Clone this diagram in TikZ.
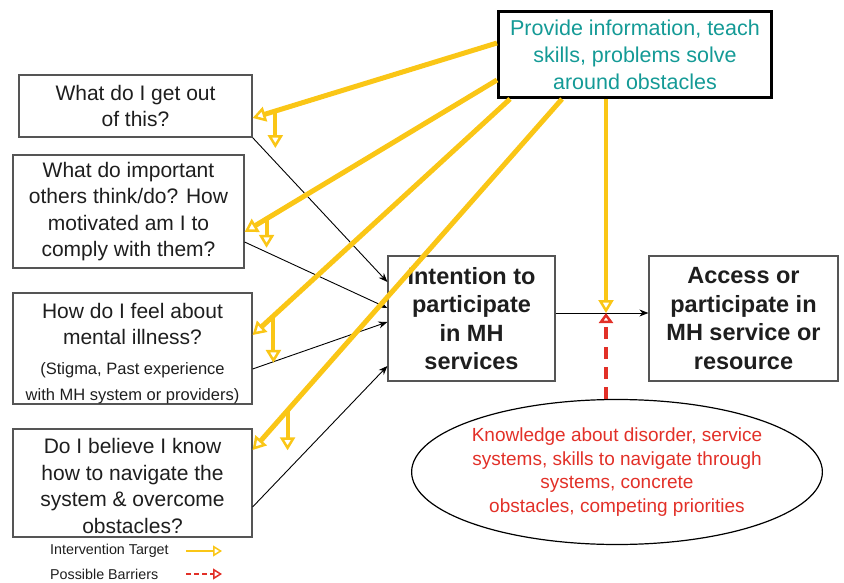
\documentclass[tikz,border=0pt]{standalone}
\usepackage{fontspec}
\setmainfont{Liberation Sans}
\usetikzlibrary{arrows.meta,shapes.geometric}

\definecolor{tgtyellow}{RGB}{250,198,22}
\definecolor{barred}{RGB}{226,48,40}
\definecolor{helpteal}{RGB}{20,154,150}
\definecolor{boxgray}{RGB}{85,85,85}
\definecolor{textgray}{RGB}{30,30,30}

\newcommand{\smallnote}{\fontsize{16.5}{21}\selectfont}

\begin{document}
\begin{tikzpicture}[x=1pt, y=-1pt,
        qbox/.style={draw=boxgray, line width=1.2pt, inner sep=0pt, align=center,
            text=textgray, font=\fontsize{21}{26.5}\selectfont},
        goalbox/.style={qbox, font=\bfseries\fontsize{23.5}{28.5}\selectfont},
        feed/.style={draw=black, line width=0.9pt, -{Stealth[length=9pt, width=7pt]}},
        tgt/.style={draw=tgtyellow, line width=5pt,
            -{Triangle[open, length=13pt, width=15pt, line width=2.5pt]}},
        tgtdrop/.style={tgt, line width=4pt},
        barrier/.style={draw=barred, line width=4pt, dash pattern=on 12pt off 8pt,
            -{Triangle[open, length=10pt, width=14pt, line width=2.5pt]}}]
        \useasboundingbox (0, 0) rectangle (844, 583);

        % questions on the left
        \node[qbox, minimum width=233pt, minimum height=62pt] (get) at (135.5, 106)
            {What do I get out\\of this?};
        \node[qbox, minimum width=231pt, minimum height=113pt] (others) at (128.5, 211.5)
            {What do important\\others think/do? How\\motivated am I to\\comply with them?};
        \node[qbox, minimum width=239pt, minimum height=111pt] (feel) at (132.5, 348.5)
            {\rule{0pt}{25pt}How do I feel about\\mental illness?\\[3pt]{\smallnote (Stigma, Past experience}\\{\smallnote with MH system or providers)}};
        \node[qbox, minimum width=239pt, minimum height=108pt] (navigate) at (132.5, 483)
            {\rule{0pt}{21pt}Do I believe I know\\how to navigate the\\system \& overcome\\obstacles?};

        % intention and access
        \node[goalbox, minimum width=167pt, minimum height=125pt] (intent) at (471.5, 318.5)
            {Intention to\\participate\\in MH\\services};
        \node[goalbox, minimum width=189pt, minimum height=125pt] (access) at (743.5, 318.5)
            {Access or\\participate in\\MH service or\\resource};

        % intervention and barriers
        \node[draw=black, line width=3pt, minimum width=273pt, minimum height=86pt,
            align=center, text=helpteal, font=\fontsize{21.5}{27}\selectfont] (help) at (635, 54.5)
            {Provide information, teach\\skills, problems solve\\around obstacles};
        \node[ellipse, draw=black, line width=1.2pt, minimum width=370pt, minimum height=145pt,
            inner sep=0pt, align=center, text=barred, font=\fontsize{19}{23.7}\selectfont] (know) at (617, 472)
            {Knowledge about disorder, service\\systems, skills to navigate through\\systems, concrete\\obstacles, competing priorities};

        \draw[feed] (get.south east) -- ([yshift=36.5pt]intent.west);
        \draw[feed] ([yshift=-30.5pt]others.east) -- ([yshift=10.5pt]intent.west);
        \draw[feed] ([yshift=-20.5pt]feel.east) -- ([yshift=-3.5pt]intent.west);
        \draw[feed] ([yshift=-24pt]navigate.east) -- ([yshift=-47.5pt]intent.west);
        \draw[feed] ([yshift=5.5pt]intent.east) -- ([yshift=5.5pt]access.west);

        \coordinate (meet) at (606, 313);
        \draw[tgtdrop] (meet |- help.south) -- (meet);
        \draw[barrier] (meet |- know.north) -- (meet);

        \draw[tgt] ([yshift=11.5pt]help.west) -- coordinate[pos=0.907] (d1) ([yshift=-12pt]get.east);
        \draw[tgt] ([yshift=-25.5pt]help.west) -- coordinate[pos=0.913] (d2) ([yshift=-20.5pt]others.east);
        \draw[tgt] ([xshift=-125pt]help.south) -- coordinate[pos=0.919] (d3) ([yshift=13.5pt]feel.east);
        \draw[tgt] ([xshift=-73pt]help.south) -- coordinate[pos=0.887] (d4) ([yshift=33pt]navigate.east);
        \draw[tgtdrop] (d1) -- ++(0, 37);
        \draw[tgtdrop] (d2) -- ++(0, 29);
        \draw[tgtdrop] (d3) -- ++(0, 47);
        \draw[tgtdrop] (d4) -- ++(0, 40);

        % legend
        \node[anchor=west, inner sep=0pt, text=textgray, font=\fontsize{14.3}{16}\selectfont] (lgtgt) at (50, 551)
            {Intervention Target};
        \node[anchor=west, inner sep=0pt, text=textgray, font=\fontsize{14.3}{16}\selectfont] (lgbar) at (50, 574)
            {Possible Barriers};
        \draw[draw=tgtyellow, line width=2pt, -{Triangle[open, length=9pt, width=11pt, line width=1.5pt]}]
            ([xshift=136pt]lgtgt.west) -- ++(36, 0);
        \draw[draw=barred, line width=2pt, dash pattern=on 5pt off 3pt,
            -{Triangle[open, length=9pt, width=11pt, line width=1.5pt]}]
            ([xshift=136pt]lgbar.west) -- ++(36, 0);
    \end{tikzpicture}
\end{document}
